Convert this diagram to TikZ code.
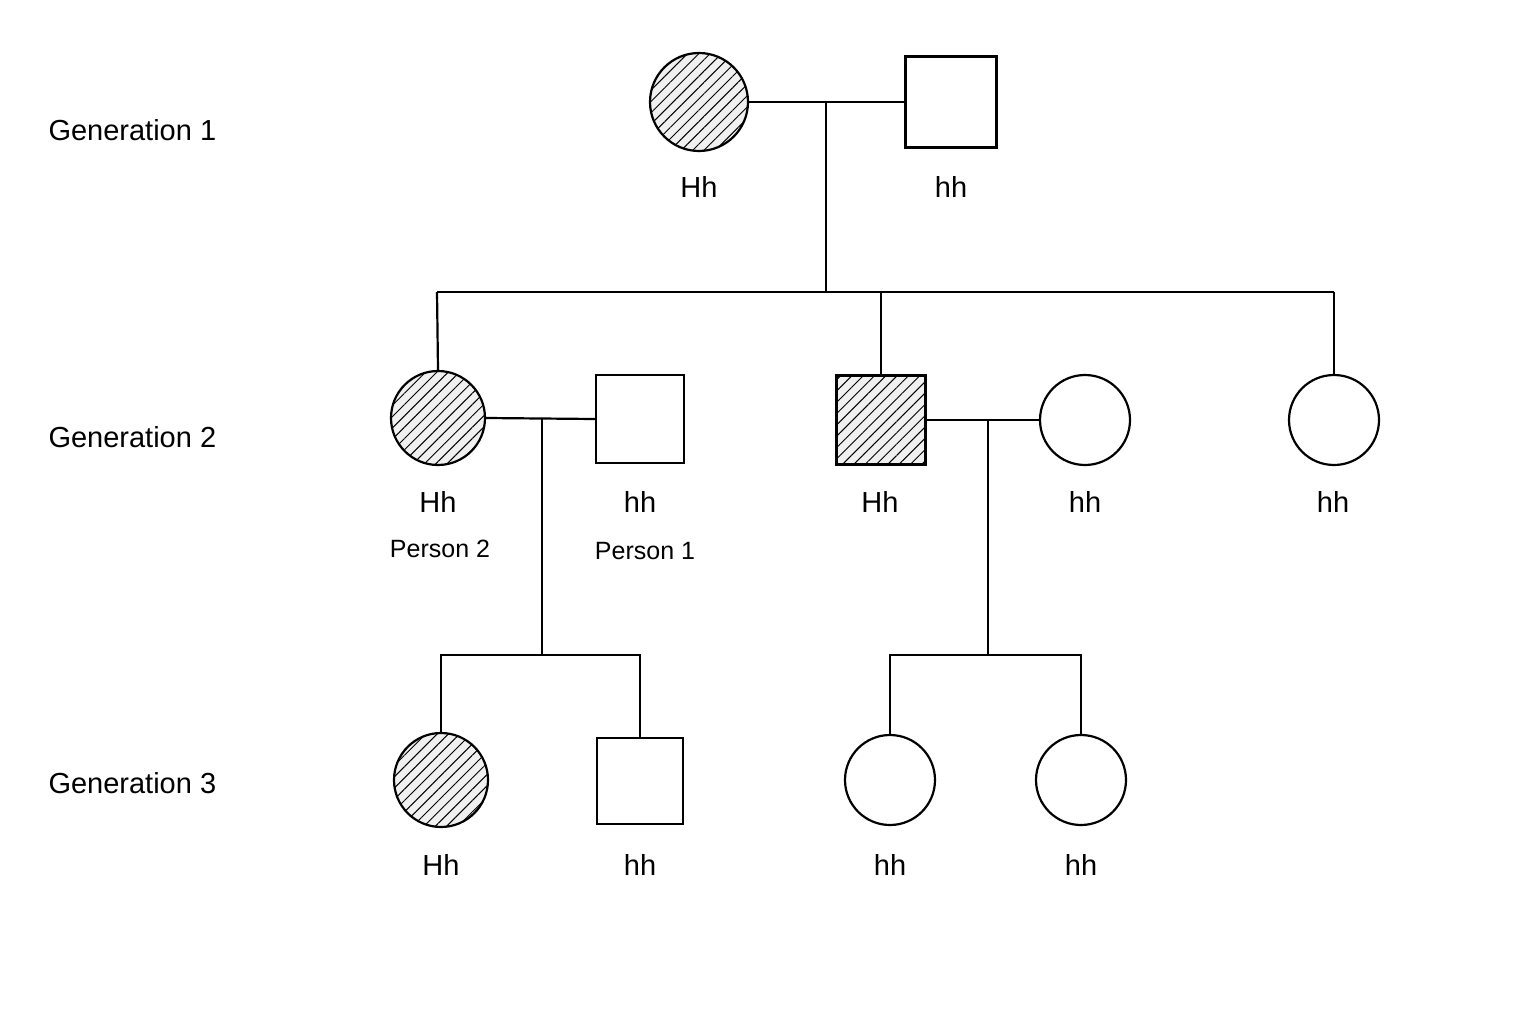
\documentclass[tikz,border=0pt]{standalone}
\usepackage{fontspec}
\setmainfont{Liberation Sans}
\usetikzlibrary{patterns.meta}
\begin{document}
\begin{tikzpicture}[x=1pt,y=-1pt,
 ln/.style={line width=2.2pt},
 fem/.style={circle,draw,line width=2.2pt,inner sep=0pt},
 mal/.style={rectangle,draw,line width=2.2pt,inner sep=0pt},
 aff/.style={fill=gray!12,postaction={pattern={Lines[angle=45,distance=8pt,line width=1pt]}}},
 lab/.style={font=\fontsize{29}{32}\selectfont},
 plab/.style={font=\fontsize{25}{28}\selectfont},
 gen/.style={font=\fontsize{29}{32}\selectfont,anchor=west}]
\useasboundingbox (0,0) rectangle (1536,1024);
\node[gen] (g1) at (45,130) {Generation 1};
\node[gen] (g2) at (45,437) {Generation 2};
\node[gen] (g3) at (45,783) {Generation 3};
% G1
\node[fem,aff,minimum size=98pt] (a) at (699,102) {};
\node[mal,minimum size=91pt] (b) at (951,102) {};
\node[lab] at (699,187) {Hh};
\node[lab] at (951,187) {hh};
\coordinate (m1) at (826,102);
\coordinate (s1) at (826,292);
\draw[ln] (a) -- (b);
\draw[ln] (m1) -- (s1);
% G2
\node[fem,aff,minimum size=94pt] (c) at (438,418) {};
\node[mal,minimum size=88pt] (d) at (640,419) {};
\node[mal,aff,minimum size=89pt] (e) at (881,420) {};
\node[fem,minimum size=90pt] (f) at (1085,420) {};
\node[fem,minimum size=90pt] (g) at (1334,420) {};
\coordinate (sl) at (437,292);
\coordinate (sm) at (881,292);
\coordinate (sr) at (1334,292);
\draw[ln] (sl) -- (sr);
\draw[ln] (sl) -- (c.north);
\draw[ln] (sm) -- (e.north);
\draw[ln] (sr) -- (g.north);
\draw[ln] (c.east) -- (d.west);
\draw[ln] (e.east) -- (f.west);
\node[lab] at (438,502) {Hh};
\node[plab] at (440,549) {Person 2};
\node[lab] at (640,502) {hh};
\node[plab] at (645,551) {Person 1};
\node[lab] at (880,502) {Hh};
\node[lab] at (1085,502) {hh};
\node[lab] at (1333,502) {hh};
\coordinate (m2) at (542,419);
\coordinate (s2) at (542,655);
\coordinate (m3) at (988,420);
\coordinate (s3) at (988,655);
\draw[ln] (m2) -- (s2);
\draw[ln] (m3) -- (s3);
% G3
\node[fem,aff,minimum size=94pt] (h) at (441,780) {};
\node[mal,minimum size=86pt] (i) at (640,781) {};
\node[fem,minimum size=90pt] (j) at (890,780) {};
\node[fem,minimum size=90pt] (k) at (1081,780) {};
\coordinate (t1) at (441,655);
\coordinate (t2) at (640,655);
\coordinate (t3) at (890,655);
\coordinate (t4) at (1081,655);
\draw[ln] (h.north) -- (t1) -- (t2) -- (i.north);
\draw[ln] (j.north) -- (t3) -- (t4) -- (k.north);
\node[lab] at (441,865) {Hh};
\node[lab] at (640,865) {hh};
\node[lab] at (890,865) {hh};
\node[lab] at (1081,865) {hh};
\end{tikzpicture}
\end{document}
